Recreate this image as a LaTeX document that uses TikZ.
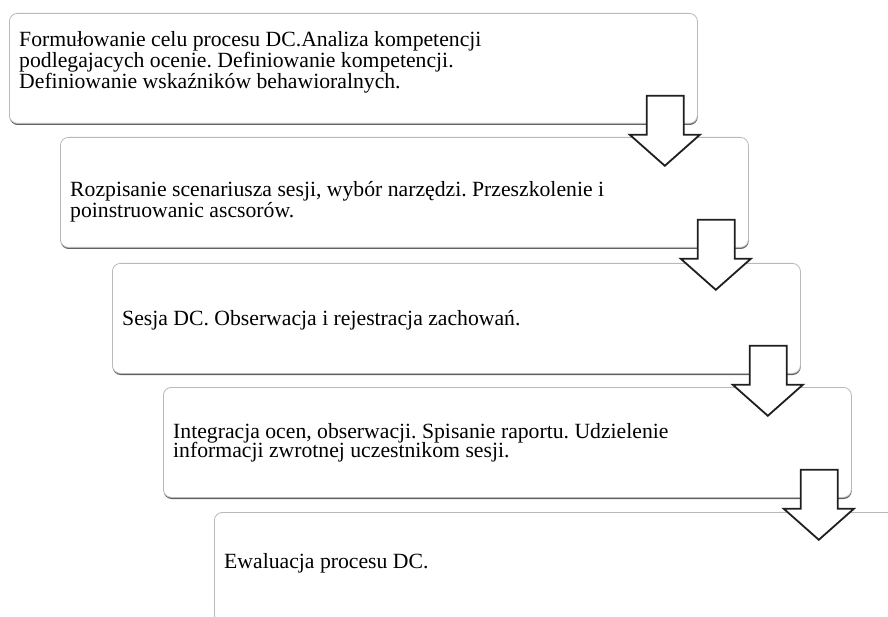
\documentclass[tikz,border=0pt]{standalone}
\usepackage{fontspec}
\setmainfont{Liberation Serif}
\frenchspacing
\usetikzlibrary{shadows}
\tikzset{
  stagebox/.style={rounded corners=8pt, draw=gray!55, fill=white, line width=0.8pt,
    minimum width=688pt, minimum height=110pt, inner sep=0pt, anchor=north west,
    general shadow={fill=black!62, shadow yshift=-1.6pt, shadow xshift=0.3pt}},
  stagetext/.style={anchor=base west, inner sep=0pt, text=black,
    font=\fontsize{21.7}{18}\selectfont\frenchspacing},
  blockarrow/.style={draw=black!88, fill=white, line width=1.8pt, line join=miter}
}
\newcommand\downarrowshape[1]{%
  \begin{scope}[shift={(#1.south east)}]
    \draw[blockarrow] (-51,-28) -- (-14,-28) -- (-14,11) -- (2,11) -- (-33,42)
      -- (-68,11) -- (-51,11) -- cycle;
  \end{scope}}
\begin{document}
\begin{tikzpicture}[x=1pt,y=-1pt]
\clip (0,0) rectangle (888,617);
\fill[white] (0,0) rectangle (888,617);
\node[stagebox] (b1) at (9,13) {};
\node[stagebox] (b2) at (60,137) {};
\node[stagebox] (b3) at (112,263) {};
\node[stagebox] (b4) at (163,387) {};
\node[stagebox] (b5) at (214,512) {};
\node[stagetext] (t1) at (19,47) {\begin{tabular}[t]{@{}l@{}}Formułowanie celu procesu DC.Analiza kompetencji\\podlegajacych ocenie. Definiowanie kompetencji.\\Definiowanie wskaźników behawioralnych.\end{tabular}};
\node[stagetext] (t2) at (70,197) {\begin{tabular}[t]{@{}l@{}}Rozpisanie scenariusza sesji, wybór narzędzi. Przeszkolenie i\\poinstruowanic ascsorów.\end{tabular}};
\node[stagetext] (t3) at (122,325) {Sesja DC. Obserwacja i rejestracja zachowań.};
\node[stagetext, font=\fontsize{21.7}{15}\selectfont\frenchspacing] (t4) at (173,438) {\begin{tabular}[t]{@{}l@{}}Integracja ocen, obserwacji. Spisanie raportu. Udzielenie\\informacji zwrotnej uczestnikom sesji.\end{tabular}};
\node[stagetext] (t5) at (224,568) {Ewaluacja procesu DC.};
\downarrowshape{b1}
\downarrowshape{b2}
\downarrowshape{b3}
\downarrowshape{b4}
\end{tikzpicture}
\end{document}
